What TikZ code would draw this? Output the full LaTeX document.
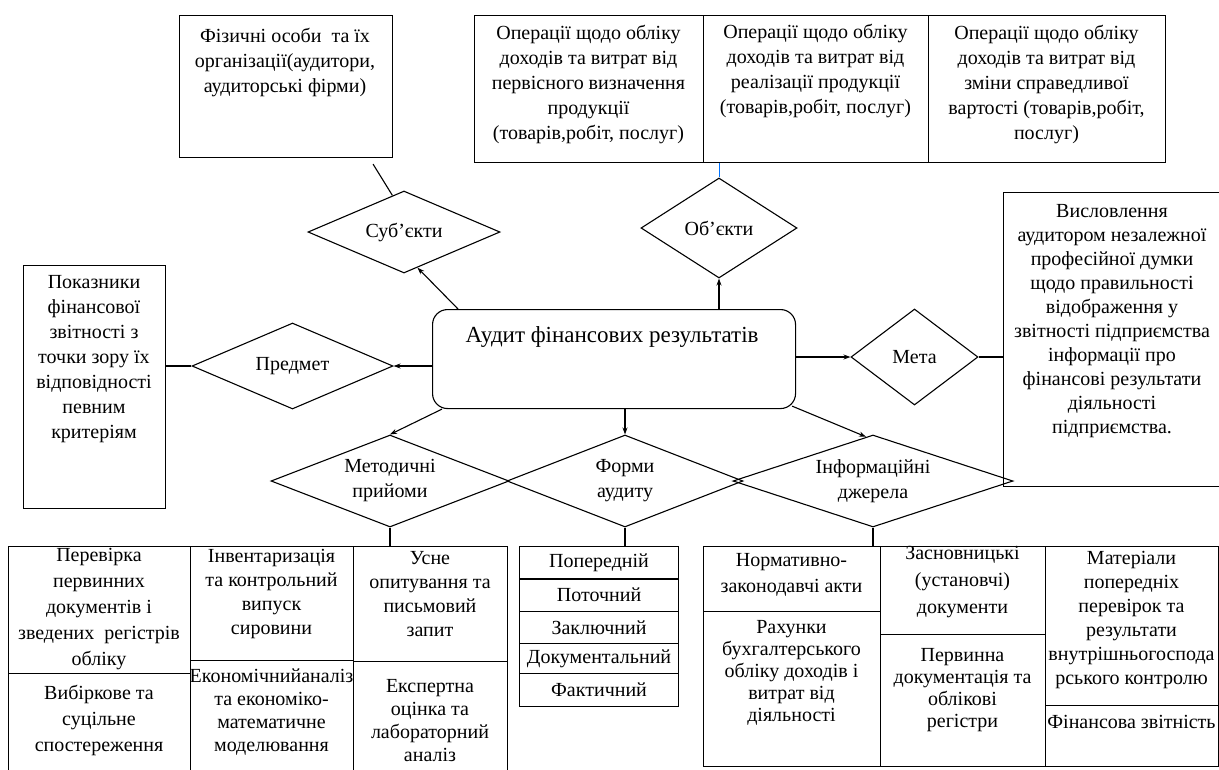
\documentclass[tikz,border=0pt]{standalone}
\usepackage{fontspec}
\setmainfont{Liberation Serif}
\usepackage{tikz}
\usetikzlibrary{arrows.meta,calc,shapes.geometric}

\begin{document}
\begin{tikzpicture}[x=1pt,y=-1pt,>={Stealth[length=7pt,width=5pt]},
  cell/.style={draw,line width=1.1pt,rectangle,inner sep=0pt,anchor=north west},
  rhomb/.style={draw,line width=1.1pt,diamond,inner sep=0pt,align=center,font=\fontsize{20}{25}\selectfont},
  lbl/.style={align=center,inner sep=0pt,font=\fontsize{20}{25}\selectfont},
  conn/.style={line width=1.1pt}]
  \useasboundingbox (0,0) rectangle (1219,769);
  \clip (0,0) rectangle (1219,769);

  % top boxes
  \node[cell,minimum width=213pt,minimum height=142pt] (persbox) at (179,15) {};
  \node[lbl] (perstext) at (285,62) {Фізичні особи\ \ та їх\\організації(аудитори,\\аудиторські фірми)};
  \node[cell,minimum width=229pt,minimum height=147pt] (ops1) at (474,15) {};
  \node[cell,minimum width=225pt,minimum height=147pt] (ops2) at (703,15) {};
  \node[cell,minimum width=237pt,minimum height=147pt] (ops3) at (928,15) {};
  \node[lbl] (ops1text) at (588.5,84) {Операції щодо обліку\\доходів та витрат від\\первісного визначення\\продукції\\(товарів,робіт, послуг)};
  \node[lbl] (ops2text) at (815.5,71) {Операції щодо обліку\\доходів та витрат від\\реалізації продукції\\(товарів,робіт, послуг)};
  \node[lbl] (ops3text) at (1046.5,84) {Операції щодо обліку\\доходів та витрат від\\зміни справедливої\\вартості (товарів,робіт,\\послуг)};

  % side boxes
  \node[cell,minimum width=142pt,minimum height=243pt] (critbox) at (23,265) {};
  \node[lbl] (crittext) at (94,359) {Показники\\фінансової\\звітності з\\точки зору їх\\відповідності\\певним\\критеріям};
  \node[cell,minimum width=222pt,minimum height=294pt] (goalbox) at (1003,192) {};
  \node[lbl,font=\fontsize{20}{24}\selectfont] (goaltext) at (1112,321) {Висловлення\\аудитором незалежної\\професійної думки\\щодо правильності\\відображення у\\звітності підприємства\\інформації про\\фінансові результати\\діяльності\\підприємства.};

  % centre
  \node[draw,line width=1.1pt,rounded corners=15pt,inner sep=0pt,anchor=north west,
    minimum width=363pt,minimum height=99pt] (audit) at (432,309) {};
  \node[inner sep=0pt,font=\fontsize{23}{28}\selectfont] (audittext) at (612,337) {Аудит фінансових результатів};

  % diamonds
  \node[rhomb,aspect=2.34,minimum width=192pt,minimum height=82pt] (subj) at (404,232) {Суб’єкти};
  \node[rhomb,aspect=1.56,minimum width=156pt,minimum height=100pt] (obj) at (719,228) {Об’єкти};
  \node[rhomb,aspect=2.34,minimum width=201pt,minimum height=86pt] (pred) at (292.5,366) {Предмет};
  \node[rhomb,aspect=1.32,minimum width=127pt,minimum height=96pt] (goal) at (914.5,357) {Мета};
  \node[rhomb,aspect=2.6,minimum width=238pt,minimum height=92pt] (meth) at (390,481) {Методичні\\прийоми};
  \node[rhomb,aspect=2.56,minimum width=236pt,minimum height=92pt] (forms) at (625,481) {Форми\\аудиту};
  \node[rhomb,aspect=3,minimum width=280pt,minimum height=92pt] (info) at (873,481) {Інформаційні\\джерела};

  % bottom left table
  \node[cell,minimum width=182pt,minimum height=127pt] (methA) at (8,546) {};
  \node[cell,minimum width=182pt,minimum height=100pt] (methB) at (8,673) {};
  \node[cell,minimum width=163pt,minimum height=114pt] (methC) at (190,546) {};
  \node[cell,minimum width=163pt,minimum height=113pt] (methD) at (190,660) {};
  \node[cell,minimum width=154pt,minimum height=115pt] (methE) at (353,546) {};
  \node[cell,minimum width=154pt,minimum height=112pt] (methF) at (353,661) {};
  \node[lbl,font=\fontsize{20}{26}\selectfont] (methAtext) at (99,609) {Перевірка\\первинних\\документів і\\зведених\ \ регістрів\\обліку};
  \node[lbl,font=\fontsize{20}{26}\selectfont] (methBtext) at (99,720) {Вибіркове та\\суцільне\\спостереження};
  \node[lbl,font=\fontsize{20}{24}\selectfont] (methCtext) at (271.5,594) {Інвентаризація\\та контрольний\\випуск\\сировини};
  \node[lbl,font=\fontsize{20}{23}\selectfont] (methDtext) at (271.5,712) {Економічнийаналіз\\та економіко-\\математичне\\моделювання};
  \node[lbl,font=\fontsize{20}{24}\selectfont] (methEtext) at (430,594) {Усне\\опитування та\\письмовий\\запит};
  \node[lbl,font=\fontsize{20}{23}\selectfont] (methFtext) at (430,721) {Експертна\\оцінка та\\лабораторний\\аналіз};

  % forms column
  \node[cell,minimum width=159pt,minimum height=32pt,font=\fontsize{20}{25}\selectfont] (formA) at (519,546) {Попередній};
  \node[cell,minimum width=159pt,minimum height=33pt,font=\fontsize{20}{25}\selectfont] (formB) at (519,578) {Поточний};
  \node[cell,minimum width=159pt,minimum height=32pt,font=\fontsize{20}{25}\selectfont] (formC) at (519,611) {Заключний};
  \node[cell,minimum width=159pt,minimum height=30pt,font=\fontsize{20}{25}\selectfont] (formD) at (519,643) {Документальний};
  \node[cell,minimum width=159pt,minimum height=33pt,font=\fontsize{20}{25}\selectfont] (formE) at (519,673) {Фактичний};
  \draw[line width=2.4pt] (formA.south west) -- (formA.south east);

  % sources table
  \node[cell,minimum width=177pt,minimum height=65pt] (srcA) at (703,546) {};
  \node[cell,minimum width=177pt,minimum height=155pt] (srcB) at (703,611) {};
  \node[cell,minimum width=165pt,minimum height=88pt] (srcC) at (880,546) {};
  \node[cell,minimum width=165pt,minimum height=132pt] (srcD) at (880,634) {};
  \node[cell,minimum width=173pt,minimum height=159pt] (srcE) at (1045,546) {};
  \node[cell,minimum width=173pt,minimum height=61pt] (srcF) at (1045,705) {};
  \node[lbl,font=\fontsize{20}{26}\selectfont] (srcAtext) at (791.5,575) {Нормативно-\\законодавчі акти};
  \node[lbl,font=\fontsize{20}{22}\selectfont] (srcBtext) at (791.5,673) {Рахунки\\бухгалтерського\\обліку доходів і\\витрат від\\діяльності};
  \node[lbl,font=\fontsize{20}{27}\selectfont] (srcCtext) at (962.5,582) {Засновницькі\\(установчі)\\документи};
  \node[lbl,font=\fontsize{20}{22}\selectfont] (srcDtext) at (962.5,690) {Первинна\\документація та\\облікові\\регістри};
  \node[lbl,font=\fontsize{20}{24}\selectfont] (srcEtext) at (1131.5,620) {Матеріали\\попередніх\\перевірок та\\результати\\внутрішньогоспода\\рського контролю};
  \node[lbl] (srcFtext) at (1131.5,722) {Фінансова звітність};

  % connectors
  \draw[conn] ($(persbox.south)+(87,6)$) -- ($(subj.north)!0.12!(subj.west)$);
  \draw[conn,->] ($(audit.north west)+(26,0)$) -- ($(subj.south)!0.14!(subj.east)$);
  \draw[conn,->] (audit.north -| obj.south) -- (obj.south);
  \draw[blue!55!cyan,line width=0.8pt] (obj.north |- ops2.south) -- (obj.north);
  \draw[conn,->] (audit.west |- pred.east) -- (pred.east);
  \draw[conn] (critbox.east |- pred.west) -- (pred.west);
  \draw[conn,->] (audit.east |- goal.west) -- (goal.west);
  \draw[conn] (goal.east) -- (goalbox.west |- goal.east);
  \draw[conn,->] ($(audit.south west)+(10,0)$) -- (meth.north);
  \draw[conn,->] (audit.south -| forms.north) -- (forms.north);
  \draw[conn,->] ($(audit.south east)+(-4,-3)$) -- ($(info.north)!0.05!(info.west)$);
  \draw[conn] (meth.south) -- (meth.south |- methA.north);
  \draw[conn] (forms.south) -- (forms.south |- formA.north);
  \draw[conn] (info.south) -- (info.south |- srcA.north);
\end{tikzpicture}
\end{document}
